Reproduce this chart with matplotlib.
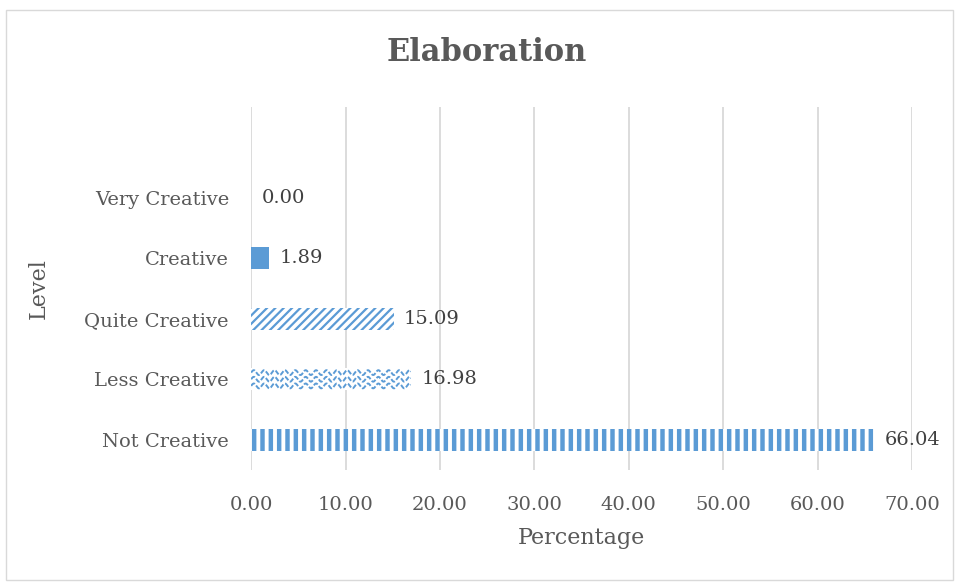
import numpy as np
import matplotlib
matplotlib.use('Agg')
import matplotlib.pyplot as plt
from matplotlib.patches import Rectangle

plt.rcParams['font.family'] = 'DejaVu Serif'

levels = ['Not Creative', 'Less Creative', 'Quite Creative', 'Creative', 'Very Creative']
percent = [66.04, 16.98, 15.09, 1.89, 0.00]
# fill style per level: vertical stripes, waves, diagonals, solid, solid
hatches = ['||', None, '////', None, None]

blue = '#5B9BD5'
grey = '#595959'

fig = plt.figure(figsize=(9.55, 5.82), dpi=100)
ax = fig.add_axes([0.263, 0.1924, 0.692, 0.6238])

ypos = np.arange(len(levels))
bh = 0.36
bars = []
for y, v, h in zip(ypos, percent, hatches):
    if h is None:
        if v > 0 and levels[y] != 'Less Creative':
            b = ax.barh(y, v, height=bh, color=blue, linewidth=0, zorder=3)
        else:
            b = ax.barh(y, v, height=bh, color='white', linewidth=0, zorder=3)
    else:
        with plt.rc_context({'hatch.linewidth': 3.2 if h == '||' else 1.6}):
            b = ax.barh(y, v, height=bh, facecolor='white', edgecolor=blue,
                        hatch=h, linewidth=0, zorder=3)
    bars.append(b[0])

# wavy texture on the "Less Creative" bar, clipped to the bar shape
wb = bars[1]
wx = np.linspace(0, percent[1], 800)
for off in (-0.11, 0.0, 0.11):
    wy = 1 + off + 0.04 * np.sin(2 * np.pi * wx / 1.1)
    ln, = ax.plot(wx, wy, color=blue, lw=1.4, ls=(0, (2.5, 1.0)), zorder=4)
    ln.set_clip_path(wb)

for y, v in zip(ypos, percent):
    ax.text(v + 1.1, y, '%.2f' % v, va='center', ha='left', fontsize=14, color='#404040')

ax.set_xlim(0, 70)
ax.set_ylim(-0.5, 5.5)
ax.set_xticks(np.arange(0, 71, 10))
ax.set_xticklabels(['%.2f' % t for t in np.arange(0, 71, 10)])
ax.set_yticks(ypos)
ax.set_yticklabels(levels)
ax.tick_params(length=0, labelsize=14, colors=grey)
ax.tick_params(axis='x', pad=19)
ax.tick_params(axis='y', pad=16)
ax.grid(axis='x', color='#D9D9D9', lw=1.3, zorder=0)
for s in ax.spines.values():
    s.set_visible(False)

ax.set_xlabel('Percentage', fontsize=16, color=grey, labelpad=9)
ax.set_ylabel('Level', fontsize=16, color=grey, labelpad=25)
fig.text(0.51, 0.91, 'Elaboration', ha='center', va='center', fontsize=22,
         fontweight='bold', color=grey)

fig.patches.append(Rectangle((6 / 955, 2 / 582), 947 / 955, 570 / 582,
                             transform=fig.transFigure, fill=False,
                             edgecolor='#D9D9D9', lw=1))

fig.savefig('out.png', dpi=100)
